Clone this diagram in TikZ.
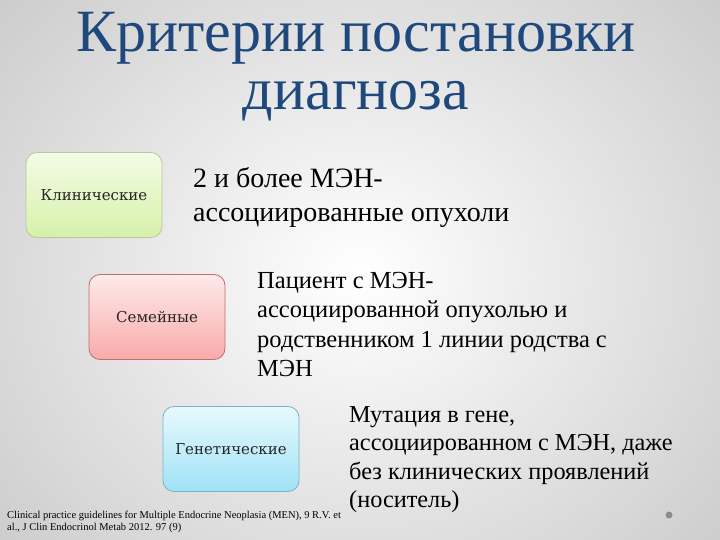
\documentclass[tikz,border=0pt]{standalone}
\usepackage{fontspec}
\setmainfont{Liberation Serif}
\newfontfamily\boxfont{DejaVu Serif}
\usepackage{tikz}
\usetikzlibrary{positioning, shapes.misc, backgrounds}
\definecolor{titleblue}{RGB}{31,73,125}
\definecolor{greentop}{RGB}{244,251,230}
\definecolor{greenbot}{RGB}{214,241,170}
\definecolor{greenline}{RGB}{184,200,150}
\definecolor{pinktop}{RGB}{254,234,234}
\definecolor{pinkbot}{RGB}{249,170,170}
\definecolor{pinkline}{RGB}{190,110,110}
\definecolor{bluetop}{RGB}{232,249,253}
\definecolor{bluebot}{RGB}{160,226,246}
\definecolor{blueline}{RGB}{120,180,200}
\tikzset{
crit box/.style args = {#1, #2, #3}{ rectangle, rounded corners = 11pt, draw = #3, line width = 0.8pt, top color = #1, bottom color = #2, minimum width = 136pt, minimum height = 85pt, font = \boxfont\fontsize{15}{17}\selectfont, text = black!85 },
crit text/.style = { anchor = north west, inner sep = 0pt, align = left, font = \fontsize{24.5}{29.5}\selectfont },
}
\begin{document}
\begin{tikzpicture}[x = 1pt, y = -1pt]
    \useasboundingbox (0, 0) rectangle (720, 540);
    \shade[inner color = white, outer color = black!20] (-120, -150) rectangle (840, 700);
    \node[inner sep = 0pt, anchor = north, align = center, text = titleblue, font = \fontsize{60}{58}\selectfont] (title) at (356, 12) {Критерии постановки\\диагноза};
    \node[crit box = {greentop, greenbot, greenline}] (clin) at (94, 195) {Клинические};
    \node[crit box = {pinktop, pinkbot, pinkline}] (fam) at (157, 317) {Семейные};
    \node[crit box = {bluetop, bluebot, blueline}] (gen) at (231, 449) {Генетические};
    \node[crit text, font = \fontsize{28}{34}\selectfont] (clintext) at (193, 167) {2 и более МЭН-\\ассоциированные опухоли};
    \node[crit text] (famtext) at (257, 272) {Пациент с МЭН-\\ассоциированной опухолью и\\родственником 1 линии родства с\\МЭН};
    \node[crit text, font = \fontsize{24.3}{28.5}\selectfont] (gentext) at (349, 406) {Мутация в гене,\\ассоциированном с МЭН, даже\\без клинических проявлений\\(носитель)};
    \node[crit text, font = \fontsize{10.5}{12}\selectfont] (ref) at (7, 511) {Clinical practice guidelines for Multiple Endocrine Neoplasia (MEN), 9 R.V. et\\al., J Clin Endocrinol Metab 2012. 97 (9)};
    \fill[black!45] (669, 515) circle (3.5);
\end{tikzpicture}
\end{document}
